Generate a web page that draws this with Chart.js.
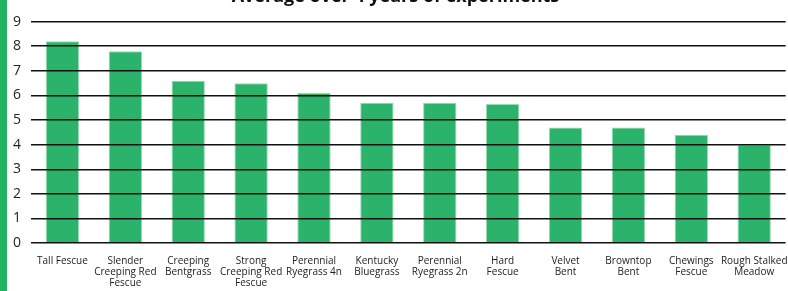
<!DOCTYPE html>
<html>
<head>
<meta charset="utf-8">
<script src="https://cdn.jsdelivr.net/npm/chart.js@4.4.1/dist/chart.umd.min.js"></script>
<style>
  html, body { margin: 0; padding: 0; background: #fff; overflow: hidden; }
  #wrap { position: absolute; left: 0; top: -14px; width: 800px; height: 315px; }
  #strip { position: absolute; left: 0; top: 0; width: 7px; height: 291px; background: #1fb35f; }
</style>
</head>
<body>
<div id="wrap"><canvas id="barGraph" width="800" height="315"></canvas></div>
<div id="strip"></div>
<script>
  const grasses = [
    'Tall Fescue',
    ['Slender', 'Creeping Red', 'Fescue'],
    ['Creeping', 'Bentgrass'],
    ['Strong', 'Creeping Red', 'Fescue'],
    ['Perennial', 'Ryegrass 4n'],
    ['Kentucky', 'Bluegrass'],
    ['Perennial', 'Ryegrass 2n'],
    ['Hard', 'Fescue'],
    ['Velvet', 'Bent'],
    ['Browntop', 'Bent'],
    ['Chewings', 'Fescue'],
    ['Rough Stalked', 'Meadow']
  ];
  const scores = [8.2, 7.8, 6.6, 6.5, 6.1, 5.7, 5.7, 5.65, 4.7, 4.7, 4.4, 4.0];
  const yTicks = [0, 1, 2, 3, 4, 5, 6, 7, 8, 9];

  const ctx = document.getElementById('barGraph');

  new Chart(ctx, {
    type: 'bar',
    data: {
      labels: grasses,
      datasets: [{
        label: 'Average',
        data: scores,
        backgroundColor: 'rgba(6,166,81,0.85)',
        borderColor: 'rgba(140,215,170,0.9)',
        borderWidth: { left: 1, right: 1, top: 1, bottom: 0 },
        barPercentage: 0.53,
        categoryPercentage: 1
      }]
    },
    options: {
      responsive: false,
      animation: false,
      layout: { padding: { left: 3, right: 12, top: 0, bottom: 0 } },
      plugins: {
        legend: { display: false },
        tooltip: { enabled: false },
        title: {
          display: true,
          text: 'Average over 4 years of experiments',
          color: '#111',
          font: { family: 'Open Sans', size: 18, weight: 'bold' },
          padding: { top: 0, bottom: 14 }
        }
      },
      scales: {
        x: {
          grid: { display: false, drawTicks: false },
          border: { display: false },
          ticks: {
            color: '#222',
            font: { family: 'Open Sans', size: 10, lineHeight: 1.13 },
            maxRotation: 0,
            autoSkip: false,
            padding: 12
          }
        },
        y: {
          min: 0,
          max: 9,
          afterBuildTicks: (axis) => { axis.ticks = yTicks.map(v => ({ value: v })); },
          grid: { color: '#111', lineWidth: 1.5, drawTicks: false, z: 1 },
          border: { display: false },
          ticks: {
            color: '#222',
            font: { family: 'Open Sans', size: 14 },
            padding: 10
          }
        }
      }
    }
  });
</script>
</body>
</html>
